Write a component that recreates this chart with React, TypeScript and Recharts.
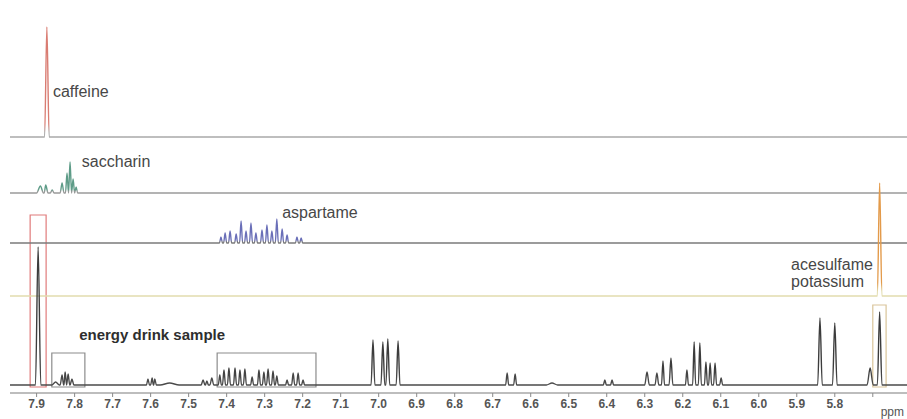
import { ComposedChart, Line, XAxis, YAxis, ReferenceArea, ReferenceDot, Label } from "recharts";

// ppm window and axis ticks
const X_MIN = 5.61;
const X_MAX = 7.97;
const PPM_TICKS = [7.9, 7.8, 7.7, 7.6, 7.5, 7.4, 7.3, 7.2, 7.1, 7.0, 6.9, 6.8, 6.7, 6.6, 6.5, 6.4, 6.3, 6.2, 6.1, 6.0, 5.9, 5.8, 5.7];

// peaks: [ppm, intensity, half width]
const CAFFEINE_PEAKS: number[][] = [[7.873, 110, 0.006]];

const SACCHARIN_PEAKS: number[][] = [
  [7.89, 7, 0.01],
  [7.876, 8, 0.006],
  [7.859, 3, 0.005],
  [7.833, 10, 0.005],
  [7.82, 20, 0.004],
  [7.812, 31, 0.004],
  [7.804, 14, 0.004],
  [7.796, 6, 0.004],
];

const ASPARTAME_PEAKS: number[][] = [
  [7.415, 6, 0.004],
  [7.404, 10, 0.004],
  [7.391, 12, 0.004],
  [7.375, 9, 0.004],
  [7.362, 22, 0.004],
  [7.349, 12, 0.004],
  [7.336, 20, 0.004],
  [7.323, 10, 0.004],
  [7.307, 13, 0.004],
  [7.294, 18, 0.004],
  [7.281, 12, 0.004],
  [7.268, 24, 0.004],
  [7.254, 14, 0.004],
  [7.241, 8, 0.004],
  [7.215, 6, 0.004],
  [7.204, 5, 0.004],
];

const ACESULFAME_PEAKS: number[][] = [[5.682, 113, 0.006]];

const ENERGY_PEAKS: number[][] = [
  [7.896, 138, 0.007],
  [7.85, 3, 0.01],
  [7.833, 10, 0.005],
  [7.825, 13, 0.004],
  [7.817, 11, 0.004],
  [7.807, 6, 0.005],
  [7.607, 6, 0.004],
  [7.596, 7, 0.004],
  [7.589, 6, 0.004],
  [7.55, 2, 0.025],
  [7.462, 5, 0.005],
  [7.452, 4, 0.004],
  [7.439, 7, 0.005],
  [7.418, 10, 0.004],
  [7.407, 15, 0.004],
  [7.394, 17, 0.004],
  [7.378, 17, 0.004],
  [7.365, 15, 0.004],
  [7.352, 16, 0.004],
  [7.333, 8, 0.004],
  [7.315, 15, 0.004],
  [7.302, 13, 0.004],
  [7.291, 16, 0.004],
  [7.278, 14, 0.004],
  [7.268, 9, 0.004],
  [7.241, 5, 0.004],
  [7.225, 12, 0.004],
  [7.212, 12, 0.004],
  [7.199, 5, 0.004],
  [7.015, 45, 0.005],
  [6.989, 43, 0.005],
  [6.976, 46, 0.005],
  [6.949, 44, 0.005],
  [6.662, 12, 0.004],
  [6.641, 11, 0.004],
  [6.544, 2, 0.015],
  [6.405, 5, 0.004],
  [6.386, 5, 0.004],
  [6.294, 13, 0.006],
  [6.268, 12, 0.005],
  [6.252, 24, 0.004],
  [6.231, 27, 0.005],
  [6.189, 15, 0.004],
  [6.17, 43, 0.004],
  [6.155, 42, 0.004],
  [6.139, 23, 0.004],
  [6.128, 22, 0.004],
  [6.115, 22, 0.004],
  [6.099, 7, 0.004],
  [5.839, 67, 0.006],
  [5.8, 62, 0.006],
  [5.707, 17, 0.008],
  [5.682, 73, 0.006],
];

const W = 907;
const H = 419;
const PLOT_TOP = 10;
const PLOT_BOTTOM = 393;
const FONT = "'Liberation Sans', Arial, Helvetica, sans-serif";

function toSeries(peaks: number[][]) {
  const pts: { ppm: number; v: number }[] = [
    { ppm: X_MAX, v: 0 },
    { ppm: X_MIN, v: 0 },
  ];
  peaks.forEach(([p, h, w]) => {
    pts.push({ ppm: p + w, v: 0 }, { ppm: p, v: h }, { ppm: p - w, v: 0 });
  });
  pts.sort((a, b) => b.ppm - a.ppm);
  const out: { ppm: number; v: number }[] = [];
  pts.forEach((pt) => {
    const last = out[out.length - 1];
    if (last && Math.abs(last.ppm - pt.ppm) < 1e-6) {
      last.v = Math.max(last.v, pt.v);
    } else {
      out.push({ ...pt });
    }
  });
  return out;
}

// stacked traces; base = baseline row in the picture
const TRACES = [
  { id: "caffeine", peaks: CAFFEINE_PEAKS, base: 137, color: "#d97c72", baseColor: "#a9a9a9" },
  { id: "saccharin", peaks: SACCHARIN_PEAKS, base: 193, color: "#5e9c88", baseColor: "#9a9a9a" },
  { id: "aspartame", peaks: ASPARTAME_PEAKS, base: 243, color: "#6a6fb8", baseColor: "#7a7a7a" },
  { id: "acesulfame", peaks: ACESULFAME_PEAKS, base: 296, color: "#e39a4a", baseColor: "#e2dcae" },
  { id: "energy", peaks: ENERGY_PEAKS, base: 385, color: "#3c3c3c", baseColor: "#4a4a4a" },
];

const labelStyle = { fill: "#474747", fontSize: 16, fontFamily: FONT };

export default function App() {
  return (
    <div style={{ width: W, height: H, background: "#fff" }}>
      <style>{"body{margin:0;background:#fff}"}</style>
      <ComposedChart width={W} height={H} margin={{ top: PLOT_TOP, right: 0, bottom: 0, left: 10 }}>
        <defs>
          {TRACES.map((t) => (
            <linearGradient key={t.id} id={`g-${t.id}`} x1="0" y1="0" x2="0" y2="1">
              <stop offset="0" stopColor={t.color} />
              <stop offset="0.88" stopColor={t.color} />
              <stop offset="0.96" stopColor={t.baseColor} />
              <stop offset="1" stopColor={t.baseColor} />
            </linearGradient>
          ))}
        </defs>
        <XAxis
          dataKey="ppm"
          type="number"
          domain={[X_MIN, X_MAX]}
          reversed
          allowDataOverflow
          ticks={PPM_TICKS}
          tickFormatter={(v: number) => (v === 5.7 ? "" : v.toFixed(1))}
          height={H - PLOT_BOTTOM}
          tickSize={4}
          axisLine={{ stroke: "#7d7d7d", strokeWidth: 1.2 }}
          tickLine={{ stroke: "#8a8a8a" }}
          tick={{ fill: "#555", fontSize: 12, fontWeight: 700, fontFamily: FONT }}
        >
          <Label value="ppm" position="insideBottomRight" offset={3} style={{ fill: "#555", fontSize: 12, fontFamily: FONT }} />
        </XAxis>
        {TRACES.map((t) => (
          <YAxis
            key={t.id}
            yAxisId={t.id}
            type="number"
            hide
            allowDataOverflow
            domain={[-(PLOT_BOTTOM - t.base), t.base - PLOT_TOP]}
          />
        ))}
        {TRACES.map((t) => (
          <Line
            key={t.id}
            yAxisId={t.id}
            data={toSeries(t.peaks)}
            dataKey="v"
            type="monotoneX"
            stroke={`url(#g-${t.id})`}
            strokeWidth={1.4}
            dot={false}
            activeDot={false}
            isAnimationActive={false}
          />
        ))}
        <ReferenceArea yAxisId="energy" x1={7.917} x2={7.875} y1={-2} y2={170} fill="none" stroke="#e07b7b" strokeWidth={1.2} />
        <ReferenceArea yAxisId="energy" x1={7.86} x2={7.773} y1={-2} y2={32} fill="none" stroke="#8c8c8c" strokeWidth={1.2} />
        <ReferenceArea yAxisId="energy" x1={7.425} x2={7.165} y1={-2} y2={32} fill="none" stroke="#8c8c8c" strokeWidth={1.2} />
        <ReferenceArea yAxisId="energy" x1={5.7} x2={5.665} y1={-2} y2={80} fill="none" stroke="#d9c49a" strokeWidth={1.2} />

        <ReferenceDot yAxisId="caffeine" x={7.857} y={46} r={0.01} fill="none" stroke="none">
          <Label value="caffeine" position="right" offset={0} style={labelStyle} />
        </ReferenceDot>
        <ReferenceDot yAxisId="saccharin" x={7.781} y={32} r={0.01} fill="none" stroke="none">
          <Label value="saccharin" position="right" offset={0} style={labelStyle} />
        </ReferenceDot>
        <ReferenceDot yAxisId="aspartame" x={7.254} y={31} r={0.01} fill="none" stroke="none">
          <Label value="aspartame" position="right" offset={0} style={labelStyle} />
        </ReferenceDot>
        <ReferenceDot yAxisId="acesulfame" x={5.915} y={32} r={0.01} fill="none" stroke="none">
          <Label value="acesulfame" position="right" offset={0} style={labelStyle} />
        </ReferenceDot>
        <ReferenceDot yAxisId="acesulfame" x={5.915} y={15} r={0.01} fill="none" stroke="none">
          <Label value="potassium" position="right" offset={0} style={labelStyle} />
        </ReferenceDot>
        <ReferenceDot yAxisId="energy" x={7.788} y={50} r={0.01} fill="none" stroke="none">
          <Label value="energy drink sample" position="right" offset={0} style={{ ...labelStyle, fill: "#2e2e2e", fontWeight: 700, fontSize: 15 }} />
        </ReferenceDot>
      </ComposedChart>
    </div>
  );
}
